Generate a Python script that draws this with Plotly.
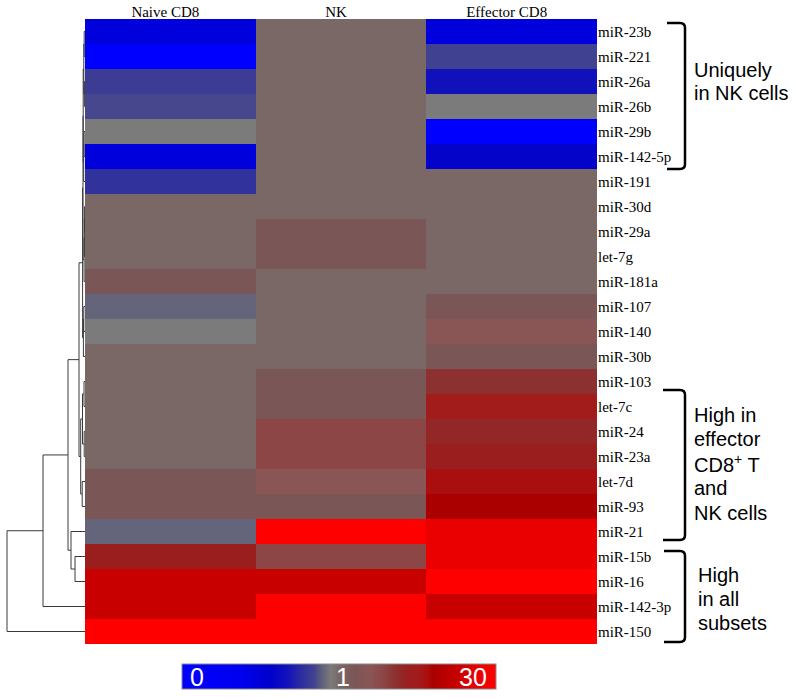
import plotly.graph_objects as go

# ---------------- data ----------------
columns = ["Naive CD8", "NK", "Effector CD8"]
mirnas = ["miR-23b", "miR-221", "miR-26a", "miR-26b", "miR-29b", "miR-142-5p",
          "miR-191", "miR-30d", "miR-29a", "let-7g", "miR-181a", "miR-107",
          "miR-140", "miR-30b", "miR-103", "let-7c", "miR-24", "miR-23a",
          "let-7d", "miR-93", "miR-21", "miR-15b", "miR-16", "miR-142-3p", "miR-150"]

# estimated relative expression (colour scale 0 .. 1 .. 30)
naive_cd8 = [0.47, 0.0, 0.82, 0.85, 0.95, 0.47, 0.78, 1.0, 1.0, 1.0, 3.9, 0.9,
             0.95, 1.0, 1.0, 1.0, 1.0, 1.0, 3.9, 3.9, 0.9, 13.8, 23.0, 23.0, 30.0]
nk = [1.0, 1.0, 1.0, 1.0, 1.0, 1.0, 1.0, 1.0, 3.9, 3.9, 1.0, 1.0,
      1.0, 1.0, 3.9, 3.9, 9.1, 9.1, 6.8, 3.9, 30.0, 9.1, 23.0, 30.0, 30.0]
effector_cd8 = [0.47, 0.84, 0.66, 0.95, 0.0, 0.58, 1.0, 1.0, 1.0, 1.0, 1.0, 3.9,
                6.8, 3.9, 11.4, 15.5, 12.6, 13.8, 17.2, 18.4, 26.5, 26.5, 30.0, 23.0, 30.0]

# dendrogram (height, left, right); leaves are row indices
n01 = (0.8, 0, 1)
n23 = (0.6, 2, 3)
n0123 = (1.2, n01, n23)
n45 = (0.9, 4, 5)
n456 = (1.3, n45, 6)
blue = (1.8, n0123, n456)
n78 = (0.4, 7, 8)
n789 = (0.6, n78, 9)
n7_10 = (0.9, n789, 10)
mid1 = (2.0, blue, n7_10)
n11_12 = (1.2, 11, 12)
n11_13 = (1.6, n11_12, 13)
clF = (2.4, mid1, n11_13)
n14_15 = (1.0, 14, 15)
n16_17 = (0.8, 16, 17)
n14_17 = (2.5, n14_15, n16_17)
n18_19 = (2.8, 18, 19)
clG = (4.3, n14_17, n18_19)
clC = (6.0, clF, clG)
clE = (10.0, 21, 22)
clD = (14.0, 20, clE)
clB = (17.0, clC, clD)
clA = (42.0, clB, 23)
root = (78.0, clA, 24)

# ---------------- helpers ----------------
W, H = 795, 698


def to_t(v):
    return v / 2.0 if v <= 1 else 0.5 + (v - 1.0) / 58.0


z = [[to_t(a), to_t(b), to_t(c)] for a, b, c in zip(naive_cd8, nk, effector_cd8)]

colorscale = [
    [0.00, "rgb(0,0,255)"],
    [0.18, "rgb(0,0,240)"],
    [0.28, "rgb(0,0,205)"],
    [0.34, "rgb(20,20,185)"],
    [0.38, "rgb(45,45,160)"],
    [0.42, "rgb(65,65,145)"],
    [0.45, "rgb(100,100,122)"],
    [0.475, "rgb(123,123,123)"],
    [0.50, "rgb(121,104,102)"],
    [0.55, "rgb(122,86,86)"],
    [0.60, "rgb(138,85,85)"],
    [0.64, "rgb(140,70,70)"],
    [0.68, "rgb(140,48,48)"],
    [0.72, "rgb(155,30,30)"],
    [0.75, "rgb(162,28,28)"],
    [0.78, "rgb(170,15,15)"],
    [0.80, "rgb(170,0,0)"],
    [0.88, "rgb(200,0,0)"],
    [0.94, "rgb(235,0,0)"],
    [1.00, "rgb(255,0,0)"],
]

dx, dy = [], []


def draw(node):
    if isinstance(node, int):
        return 0.0, float(node)
    h, l, r = node
    hl, yl = draw(l)
    hr, yr = draw(r)
    dx.extend([hl, h, h, hr, None])
    dy.extend([yl, yl, yr, yr, None])
    return h, (yl + yr) / 2.0


draw(root)

hm_x0, hm_x1 = 85 / W, 597 / W
hm_y0, hm_y1 = 1 - 644 / H, 1 - 19 / H

fig = go.Figure()
fig.add_trace(go.Heatmap(
    z=z, x=list(range(len(columns))), y=list(range(len(mirnas))),
    colorscale=colorscale, zmin=0, zmax=1, hoverinfo="skip",
    colorbar=dict(orientation="h", x=339 / W, xanchor="center",
                  y=1 - 676.5 / H, yanchor="middle",
                  len=314, lenmode="pixels", thickness=25, thicknessmode="pixels",
                  showticklabels=False, ticks="", outlinewidth=1,
                  outlinecolor="#8a8a8a", xpad=0, ypad=0, borderwidth=0),
))
fig.add_trace(go.Scatter(x=dx, y=dy, mode="lines", xaxis="x2", yaxis="y",
                         line=dict(color="#3a3a3a", width=1), hoverinfo="skip",
                         showlegend=False))

serif = "Liberation Serif, Times New Roman, serif"
sans = "Liberation Sans, Arial, sans-serif"

fig.update_layout(
    width=W, height=H, margin=dict(l=0, r=0, t=0, b=0, autoexpand=False),
    paper_bgcolor="white", plot_bgcolor="white", showlegend=False,
    xaxis=dict(domain=[hm_x0, hm_x1], side="top", tickvals=list(range(3)),
               ticktext=columns, ticks="", showgrid=False, zeroline=False,
               showline=False, range=[-0.5, 2.5], ticklabelshift=-5,
               ticklabelstandoff=-2, automargin=False,
               tickfont=dict(family=serif, size=15, color="black")),
    yaxis=dict(domain=[hm_y0, hm_y1], side="right", tickvals=list(range(len(mirnas))),
               ticktext=mirnas, ticks="", showgrid=False, zeroline=False,
               showline=False, range=[len(mirnas) - 0.5, -0.5], automargin=False,
               tickfont=dict(family=serif, size=15, color="black")),
    xaxis2=dict(domain=[5 / W, hm_x0], range=[80, 0], visible=False,
                anchor="y", automargin=False),
)

# brackets
def bracket(xl, xr, ytop, ybot):
    r = 5
    p = (f"M {xl/W},{1-ytop/H} L {(xr-r)/W},{1-ytop/H} "
         f"Q {xr/W},{1-ytop/H} {xr/W},{1-(ytop+r)/H} "
         f"L {xr/W},{1-(ybot-r)/H} Q {xr/W},{1-ybot/H} {(xr-r)/W},{1-ybot/H} "
         f"L {xl/W},{1-ybot/H}")
    fig.add_shape(type="path", path=p, xref="paper", yref="paper",
                  line=dict(color="black", width=2.5))


bracket(667, 685, 23, 169)
bracket(663, 685, 390, 540)
bracket(664, 685, 551, 642)

lines = [
    ("Uniquely", 692, 70), ("in NK cells", 692, 93),
    ("High in", 692, 415), ("effector", 692, 439), ("CD8<sup>+</sup> T", 692, 463),
    ("and", 692, 488), ("NK cells", 692, 513),
    ("High", 696, 575), ("in all", 696, 599), ("subsets", 696, 623),
]
for txt, px, py in lines:
    fig.add_annotation(text=txt, x=px / W, y=1 - py / H, xref="paper", yref="paper",
                       xanchor="left", yanchor="middle", showarrow=False,
                       font=dict(family=sans, size=20, color="black"))

# colour bar labels
for txt, px, anchor in [("0", 188, "left"), ("1", 343, "center"), ("30", 489, "right")]:
    fig.add_annotation(text=txt, x=px / W, y=1 - 677 / H, xref="paper", yref="paper",
                       xanchor=anchor, yanchor="middle", showarrow=False,
                       font=dict(family=sans, size=25, color="white"))
for px in (184, 493):
    fig.add_shape(type="line", x0=px / W, x1=px / W, y0=1 - 666 / H, y1=1 - 688 / H,
                  xref="paper", yref="paper", line=dict(color="white", width=2))

fig.write_html("out.html", config={"displayModeBar": False},
               post_script="document.body.style.margin='0';document.body.style.padding='0';")
